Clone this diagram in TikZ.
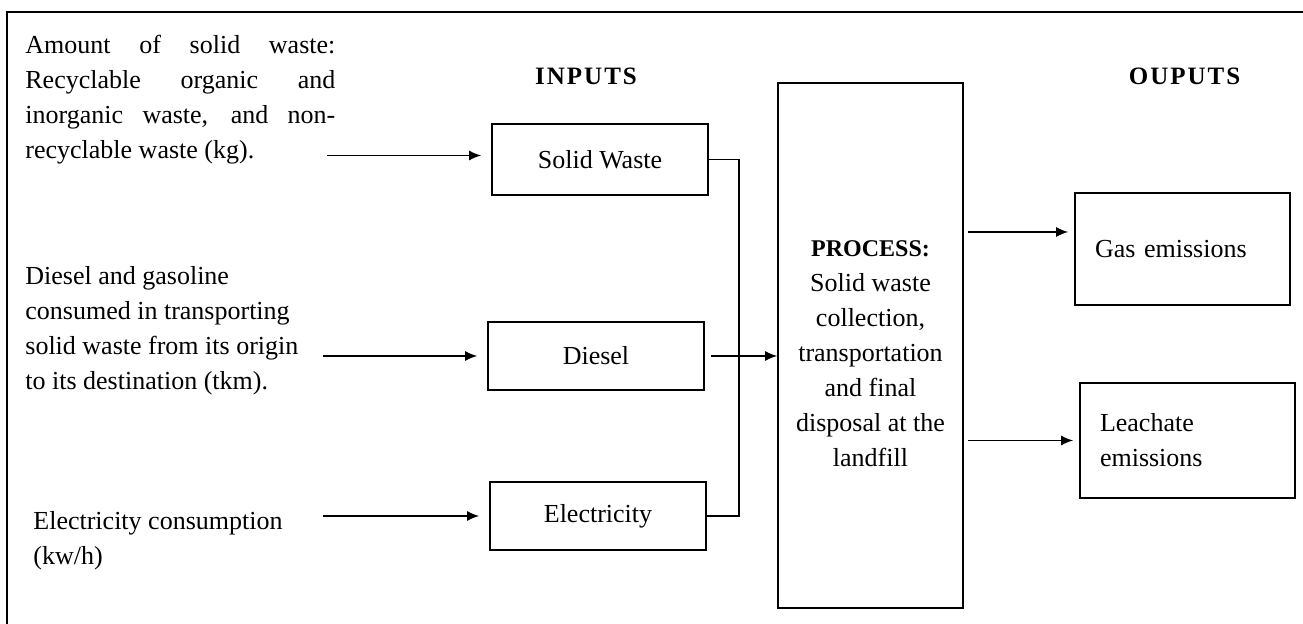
\documentclass[tikz,border=0pt]{standalone}
\usepackage{fontspec}
\setmainfont{Liberation Serif}
\newfontfamily\headfont{Liberation Serif}[LetterSpace=8]
\usetikzlibrary{arrows, arrows.meta, positioning, calc}
\tikzstyle{arrow} = [line width=0.8pt,->,>={Latex[length=6pt,width=5pt]}]
\tikzstyle{inbox} = [rectangle, minimum width=108pt, minimum height=34pt, text centered, draw=black, line width=0.8pt, align=center]
\tikzstyle{outbox} = [rectangle, minimum width=107.5pt, text width=87.5pt, draw=black, line width=0.8pt, align=left]

\begin{document}
\begin{tikzpicture}[x=0.5pt, y=-0.5pt,
        note/.style={inner sep=0pt, anchor=north west, align=left},
        heading/.style={font=\headfont\fontsize{12.5}{14}\selectfont\bfseries},
        every node/.style={font=\fontsize{13}{17.5}\selectfont}]

    \useasboundingbox (0,0) rectangle (1303,624);

    % frame (only top and left edge visible)
    \coordinate (fbl) at (7,630);
    \coordinate (ftr) at (1310,12);
    \draw[line width=0.8pt] (fbl) |- (ftr);

    \node[note, text width=155pt, align=justify] (amount) at (25,35) {Amount of solid waste:\linebreak Recyclable organic and\linebreak inorganic waste, and non-\linebreak recyclable waste (kg).};
    \node[note] (dieseltxt) at (25,266) {Diesel and gasoline\\ consumed in transporting\\ solid waste from its origin\\ to its destination (tkm).};
    \node[note] (electxt) at (33,511) {Electricity consumption\\ (kw/h)};

    \node[inbox, minimum height=35.5pt] (solid) at (600,159.5) {Solid Waste};
    \node[inbox] (diesel) at (596,356) {Diesel};
    \node[inbox] (elec) at (598,516) {Electricity};
    \node[heading, above=15.5pt of solid, xshift=-7pt] (inputs) {INPUTS};

    \node[rectangle, draw=black, line width=0.8pt, minimum width=92.5pt, minimum height=262.5pt] (process) at (870.5,345.5) {};
    \node[align=center, yshift=-4pt] (proctxt) at (process.center) {{\bfseries\fontsize{12}{17.5}\selectfont PROCESS:}\\ Solid waste\\ collection,\\ transportation\\ and final\\ disposal at the\\ landfill};

    \node[outbox, minimum height=56pt] (gas) at (1182.5,249) {Gas emissions};
    \node[outbox, minimum height=57.5pt] (leach) at (1187.5,440.5) {Leachate\\ emissions};
    \node[heading, above=50pt of gas, xshift=1pt] (outputs) {OUPUTS};

    \coordinate (Qa) at ([xshift=-82pt, yshift=2pt]solid.west);
    \coordinate (Qd) at ([xshift=-82pt]diesel.west);
    \coordinate (Qe) at ([xshift=-83pt]elec.west);
    \coordinate (Qj) at ([xshift=15pt]solid.east);
    \coordinate (Qg) at ([yshift=8.5pt]gas.west);

    \draw[arrow, shorten >=5pt] (Qa) -- (Qa -| solid.west);
    \draw[arrow, shorten >=5pt] (Qd) -- (diesel.west);
    \draw[arrow, shorten >=5pt] (Qe) -- (elec.west);
    \draw[arrow, -] (solid.east) -- (Qj) |- (elec.east);
    \draw[arrow, shorten <=3pt] (diesel.east) -- (diesel.east -| process.west);
    \draw[arrow, shorten <=2pt, shorten >=3pt] (Qg -| process.east) -- (Qg);
    \draw[arrow, shorten <=2pt, shorten >=3pt] (leach.west -| process.east) -- (leach.west);
\end{tikzpicture}
\end{document}
